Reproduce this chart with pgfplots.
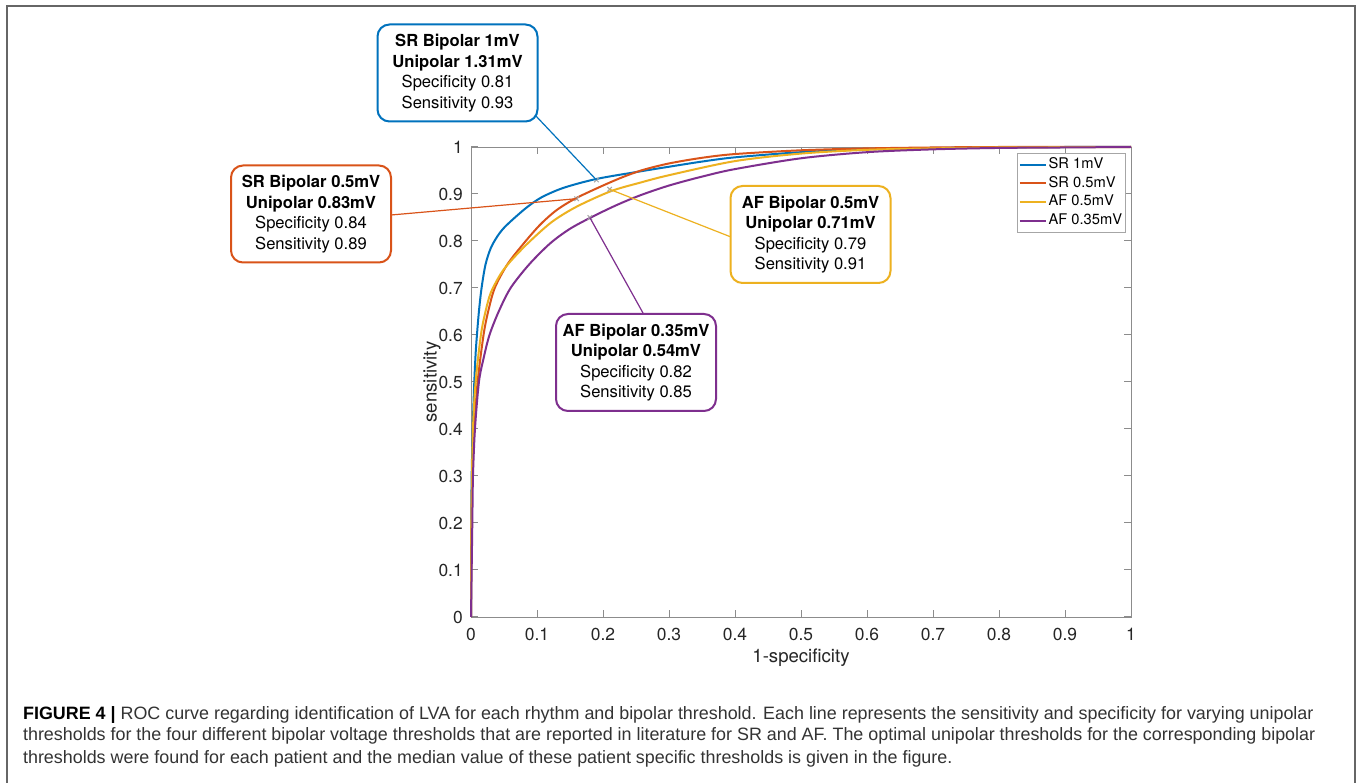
\documentclass[border=0pt]{standalone}
\usepackage{fontspec}
\setmainfont{TeX Gyre Heros}
\newfontfamily\capfont{Liberation Sans}
\usepackage{pgfplots}
\pgfplotsset{compat=1.18}
\definecolor{mblue}{rgb}{0,0.447,0.741}
\definecolor{mred}{rgb}{0.85,0.325,0.098}
\definecolor{myellow}{rgb}{0.929,0.694,0.125}
\definecolor{mpurple}{rgb}{0.494,0.184,0.556}
\begin{document}
\begin{tikzpicture}[x=0.5pt,y=0.5pt]
\useasboundingbox (0,0) rectangle (1357,783);
\fill[white] (0,0) rectangle (1357,783);
\draw[black!60, line width=0.8pt] (7,0) -- (7,777) -- (1355,777) -- (1355,0);
\begin{axis}[
  at={(235.5pt,83pt)}, anchor=south west,
  scale only axis, width=330pt, height=235pt,
  xmin=0, xmax=1, ymin=0, ymax=1,
  xtick={0,0.1,0.2,0.3,0.4,0.5,0.6,0.7,0.8,0.9,1},
  ytick={0,0.1,0.2,0.3,0.4,0.5,0.6,0.7,0.8,0.9,1},
  /pgf/number format/assume math mode=true,
  axis line style={black!45},
  tick style={black!45, line width=0.5pt},
  major tick length=3.3pt,
  every tick label/.append style={text=black!85, font=\fontsize{8.7}{10}\selectfont},
  xticklabel style={yshift=-2.1pt},
  yticklabel style={xshift=-0.6pt},
  xlabel={1-specificity}, ylabel={sensitivity},
  label style={font=\fontsize{9.3}{11}\selectfont, text=black!85},
  xlabel style={at={(axis description cs:0.5,0)}, anchor=north, yshift=-12.4pt},
  ylabel style={at={(axis description cs:-0.059,0.5)}, anchor=center},
  clip=false,
  legend style={at={(axis cs:0.992,0.987)}, anchor=north east, draw=black!35,
    font=\fontsize{7.35}{8}\selectfont, inner sep=0.8pt, row sep=0pt,
    nodes={text height=5.3pt, text depth=1.5pt, inner xsep=0.8pt, inner ysep=1.3pt},
    cells={anchor=west}},
  legend image code/.code={\draw[#1] (0pt,0pt) -- (13pt,0pt);},
  every axis plot/.append style={line width=1pt},
]
\addplot[mblue, smooth, tension=0.5] coordinates {
(0,0) (0.0005,0.2) (0.001,0.3) (0.003,0.42) (0.005,0.5) (0.007,0.56) (0.009,0.6)
(0.012,0.65) (0.016,0.7) (0.022,0.75) (0.03,0.785) (0.04,0.81) (0.05,0.828)
(0.065,0.848) (0.085,0.872) (0.107,0.893) (0.14,0.913) (0.19,0.932) (0.256,0.948)
(0.3,0.958) (0.35,0.969) (0.4,0.978) (0.5,0.989) (0.6,0.995) (0.7,0.998) (0.8,0.999)
(0.9,1) (1,1)};
\addlegendentry{SR 1mV}
\addplot[mred, smooth, tension=0.5] coordinates {
(0,0) (0.0008,0.2) (0.002,0.3) (0.005,0.4) (0.01,0.5) (0.019,0.6) (0.026,0.65)
(0.036,0.7) (0.055,0.75) (0.08,0.795) (0.105,0.835) (0.13,0.866) (0.159,0.891)
(0.2,0.918) (0.23,0.936) (0.26,0.951) (0.3,0.965) (0.35,0.977) (0.4,0.985)
(0.5,0.993) (0.6,0.997) (0.7,0.999) (0.8,1) (1,1)};
\addlegendentry{SR 0.5mV}
\addplot[myellow, smooth, tension=0.5] coordinates {
(0,0) (0.001,0.25) (0.003,0.4) (0.007,0.5) (0.015,0.6) (0.022,0.65) (0.03,0.69)
(0.045,0.73) (0.06,0.757) (0.086,0.795) (0.122,0.84) (0.16,0.873) (0.212,0.906)
(0.256,0.924) (0.3,0.94) (0.4,0.97) (0.5,0.986) (0.6,0.994) (0.7,0.997)
(0.8,0.999) (1,1)};
\addlegendentry{AF 0.5mV}
\addplot[mpurple, smooth, tension=0.5] coordinates {
(0,0) (0.001,0.1) (0.002,0.2) (0.003,0.3) (0.006,0.4) (0.012,0.5) (0.019,0.55)
(0.028,0.6) (0.042,0.65) (0.06,0.7) (0.088,0.75) (0.12,0.795) (0.15,0.826)
(0.183,0.851) (0.22,0.876) (0.256,0.897) (0.3,0.918) (0.35,0.937) (0.4,0.953)
(0.5,0.976) (0.6,0.989) (0.7,0.995) (0.8,0.998) (0.9,0.999) (1,1)};
\addlegendentry{AF 0.35mV}
\addplot[only marks, mark=x, mark size=1.6pt, black!35, line width=0.5pt, forget plot]
 coordinates {(0.19,0.93) (0.16,0.89) (0.21,0.91) (0.18,0.85)};
\coordinate (pB) at (axis cs:0.19,0.93);
\coordinate (pR) at (axis cs:0.16,0.89);
\coordinate (pY) at (axis cs:0.21,0.91);
\coordinate (pP) at (axis cs:0.18,0.85);
\end{axis}
\draw[mblue, line width=0.6pt] (535,668) -- (pB);
\draw[mred, line width=0.6pt] (391,568) -- (pR);
\draw[myellow, line width=0.6pt] (731,546) -- (pY);
\draw[mpurple, line width=0.6pt] (643,470) -- (pP);
\tikzset{abox/.style={draw=#1, line width=1pt, rounded corners=6pt, fill=white,
  align=center, minimum width=80pt, minimum height=48.5pt, inner sep=2pt,
  font=\fontsize{8.3}{10.25}\selectfont, text=black}}
\node[abox=mblue] at (457.5,710) {{\bfseries SR Bipolar 1mV}\\{\bfseries Unipolar 1.31mV}\\Specificity 0.81\\Sensitivity 0.93};
\node[abox=mred] at (311,569) {{\bfseries SR Bipolar 0.5mV}\\{\bfseries Unipolar 0.83mV}\\Specificity 0.84\\Sensitivity 0.89};
\node[abox=myellow] at (810.5,548.5) {{\bfseries AF Bipolar 0.5mV}\\{\bfseries Unipolar 0.71mV}\\Specificity 0.79\\Sensitivity 0.91};
\node[abox=mpurple] at (636,420.5) {{\bfseries AF Bipolar 0.35mV}\\{\bfseries Unipolar 0.54mV}\\Specificity 0.82\\Sensitivity 0.85};
\tikzset{captxt/.style={anchor=base west, inner sep=0pt, font=\capfont\fontsize{8.95}{10}\selectfont, text=black!80}}
\node[captxt] at (22.7,63.7) {{\bfseries\color{black}FIGURE 4 |} ROC curve regarding identification of LVA for each rhythm and bipolar threshold. Each line represents the sensitivity and specificity for varying unipolar};
\node[captxt] at (22.7,42.3) {thresholds for the four different bipolar voltage thresholds that are reported in literature for SR and AF. The optimal unipolar thresholds for the corresponding bipolar};
\node[captxt] at (22.7,19) {thresholds were found for each patient and the median value of these patient specific thresholds is given in the figure.};
\end{tikzpicture}
\end{document}
